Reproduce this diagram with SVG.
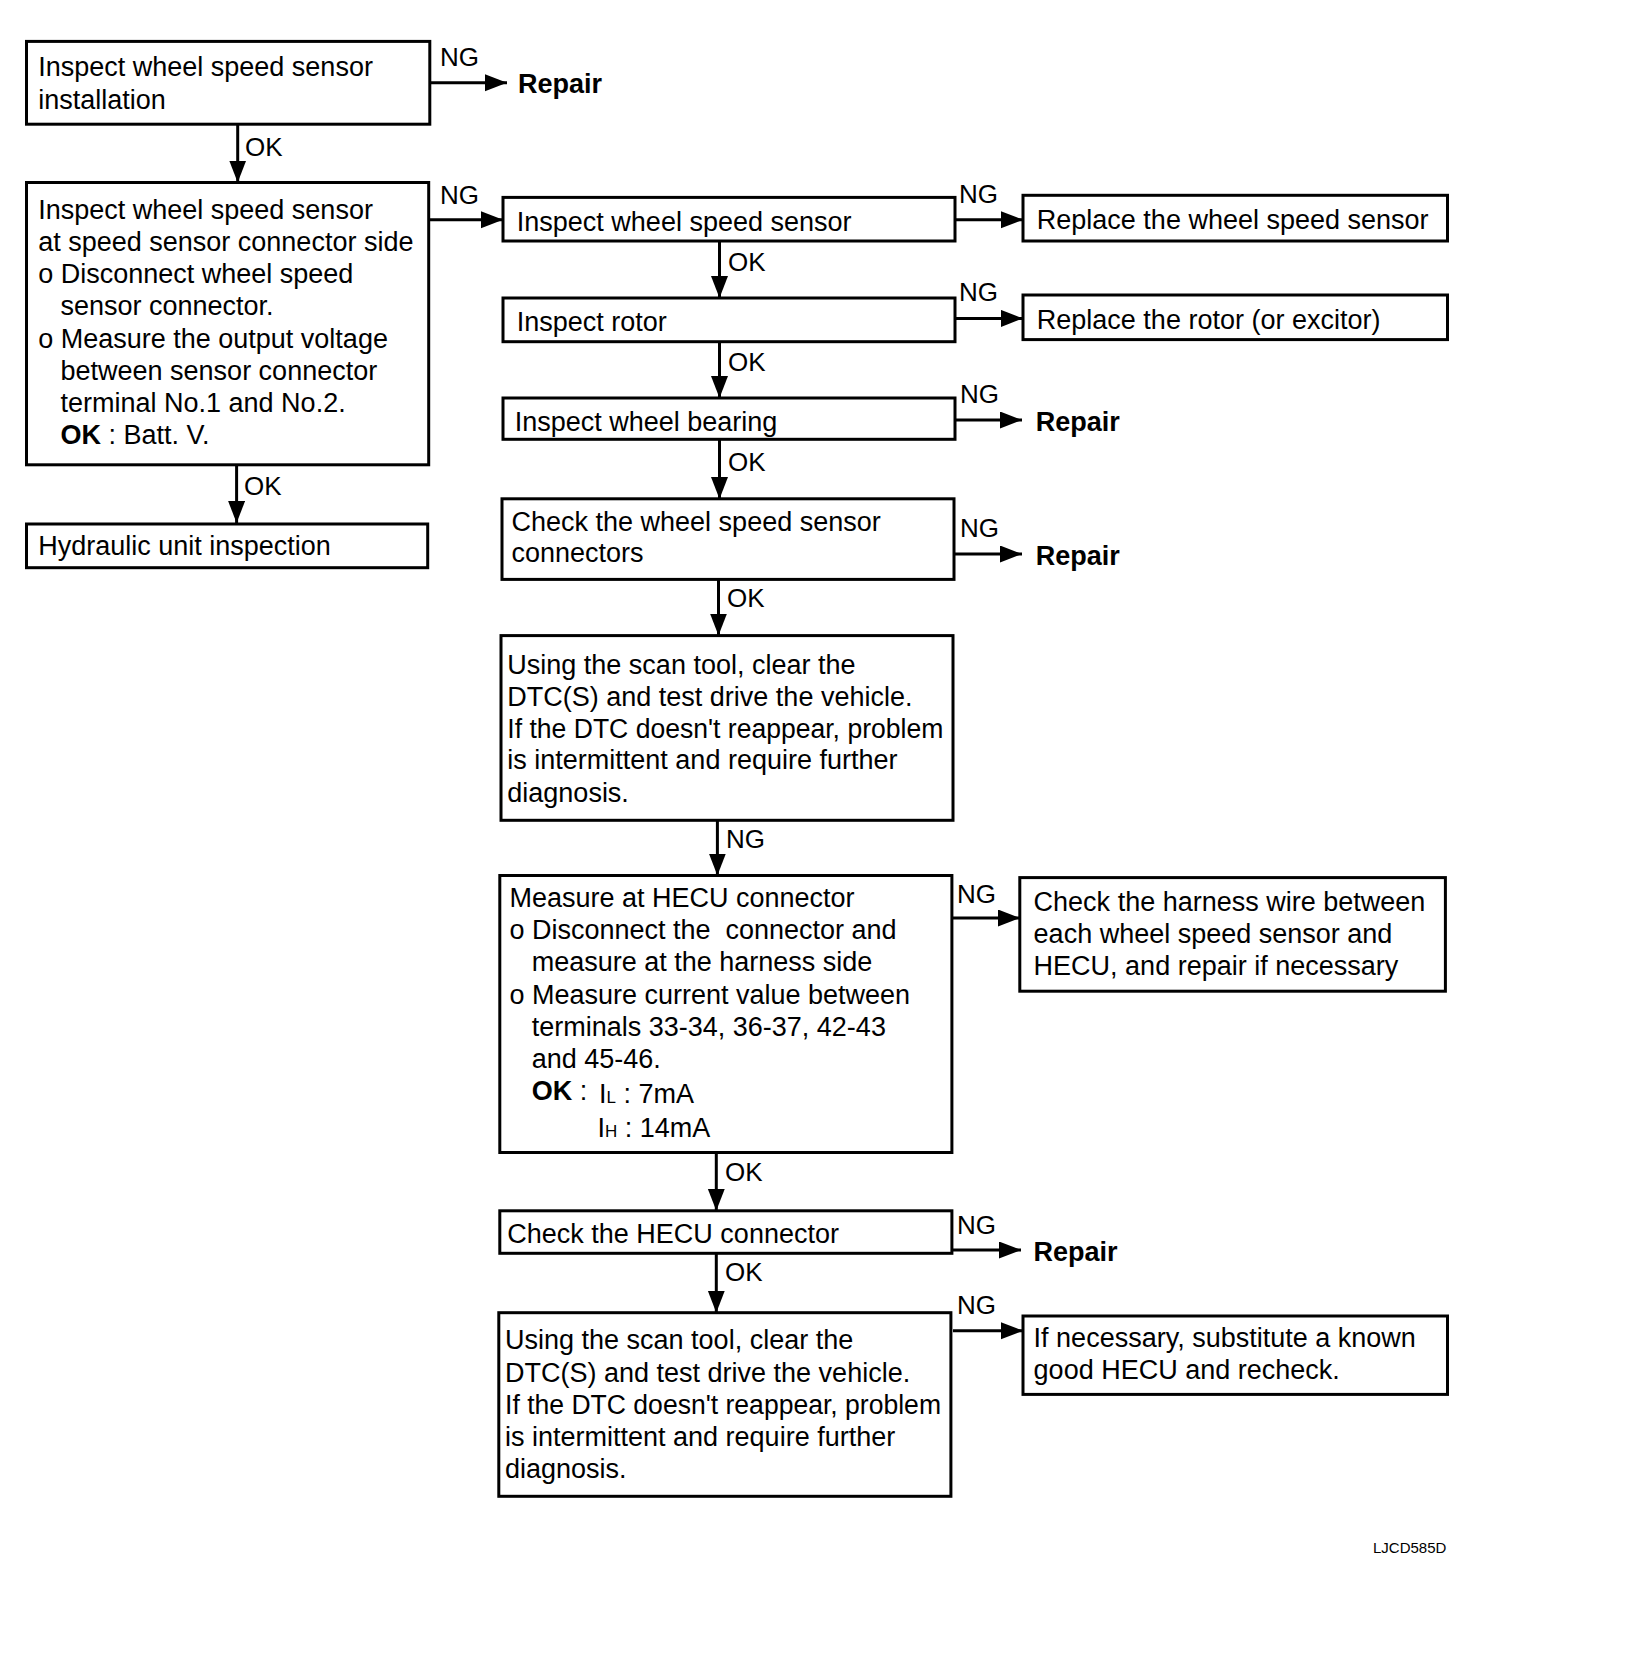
<svg xmlns="http://www.w3.org/2000/svg" width="1648" height="1664" viewBox="0 0 1648 1664">
<defs>
<style>
.box{fill:#fff;stroke:#000;stroke-width:3}
.t{font-family:"Liberation Sans",Arial,sans-serif;font-size:27px;fill:#000}
.lbl{font-family:"Liberation Sans",Arial,sans-serif;font-size:26px;fill:#000}
.b{font-weight:bold}
.c{fill:none;stroke:#000;stroke-width:3}
</style>
<marker id="ah" markerUnits="userSpaceOnUse" markerWidth="24" markerHeight="18" refX="22" refY="8.5" orient="auto">
<path d="M0,0 L22,8.5 L0,17 z" fill="#000"/>
</marker>
</defs>
<rect width="1648" height="1664" fill="#fff"/>

<g id="connectors">
<line class="c" x1="430" y1="82.8" x2="507" y2="82.8" marker-end="url(#ah)"/>
<line class="c" x1="237.7" y1="124" x2="237.7" y2="182.5" marker-end="url(#ah)"/>
<line class="c" x1="429" y1="219.7" x2="503" y2="219.7" marker-end="url(#ah)"/>
<line class="c" x1="236.6" y1="465" x2="236.6" y2="523" marker-end="url(#ah)"/>
<line class="c" x1="955" y1="219.7" x2="1023" y2="219.7" marker-end="url(#ah)"/>
<line class="c" x1="719.5" y1="241" x2="719.5" y2="298" marker-end="url(#ah)"/>
<line class="c" x1="955" y1="318.4" x2="1023" y2="318.4" marker-end="url(#ah)"/>
<line class="c" x1="719.5" y1="342" x2="719.5" y2="398" marker-end="url(#ah)"/>
<line class="c" x1="955" y1="420" x2="1022" y2="420" marker-end="url(#ah)"/>
<line class="c" x1="719.5" y1="439.5" x2="719.5" y2="499" marker-end="url(#ah)"/>
<line class="c" x1="954" y1="554" x2="1022" y2="554" marker-end="url(#ah)"/>
<line class="c" x1="718.5" y1="579.5" x2="718.5" y2="635.5" marker-end="url(#ah)"/>
<line class="c" x1="717.4" y1="820.5" x2="717.4" y2="875.5" marker-end="url(#ah)"/>
<line class="c" x1="952" y1="918" x2="1020" y2="918" marker-end="url(#ah)"/>
<line class="c" x1="716.3" y1="1152.5" x2="716.3" y2="1210.8" marker-end="url(#ah)"/>
<line class="c" x1="952" y1="1250" x2="1021" y2="1250" marker-end="url(#ah)"/>
<line class="c" x1="716.3" y1="1253.5" x2="716.3" y2="1312.7" marker-end="url(#ah)"/>
<line class="c" x1="953" y1="1330.7" x2="1023" y2="1330.7" marker-end="url(#ah)"/>
<text class="lbl" x="440" y="66">NG</text>
<text class="lbl" x="245" y="156">OK</text>
<text class="lbl" x="440" y="204">NG</text>
<text class="lbl" x="244" y="494.5">OK</text>
<text class="lbl" x="959" y="202.7">NG</text>
<text class="lbl" x="728" y="270.6">OK</text>
<text class="lbl" x="959" y="301.4">NG</text>
<text class="lbl" x="728" y="371.4">OK</text>
<text class="lbl" x="960" y="403">NG</text>
<text class="lbl" x="728" y="471">OK</text>
<text class="lbl" x="960" y="537">NG</text>
<text class="lbl" x="727" y="607">OK</text>
<text class="lbl" x="726" y="848">NG</text>
<text class="lbl" x="957" y="903">NG</text>
<text class="lbl" x="725" y="1181">OK</text>
<text class="lbl" x="957" y="1234">NG</text>
<text class="lbl" x="725" y="1281">OK</text>
<text class="lbl" x="957" y="1313.8">NG</text>
</g>

<g id="n1">
<rect class="box" x="26.5" y="41.4" width="403.3" height="82.8"/>
<text class="t" x="38.2" y="76.4">Inspect wheel speed sensor</text>
<text class="t" x="38.2" y="109.3">installation</text>
</g>
<g id="r1"><text class="t b" x="518" y="93">Repair</text></g>

<g id="n2">
<rect class="box" x="26.5" y="182.5" width="402.2" height="282.3"/>
<text class="t" x="38.2" y="218.6">Inspect wheel speed sensor</text>
<text class="t" x="38.2" y="251">at speed sensor connector side</text>
<text class="t" x="38.2" y="283">o Disconnect wheel speed</text>
<text class="t" x="60.5" y="315">sensor connector.</text>
<text class="t" x="38.2" y="347.5">o Measure the output voltage</text>
<text class="t" x="60.5" y="379.5">between sensor connector</text>
<text class="t" x="60.5" y="411.5">terminal No.1 and No.2.</text>
<text class="t" x="60.5" y="443.5"><tspan class="b">OK</tspan> : Batt. V.</text>
</g>

<g id="n3">
<rect class="box" x="26.5" y="524" width="401.2" height="43.7"/>
<text class="t" x="38.2" y="555">Hydraulic unit inspection</text>
</g>

<g id="n4">
<rect class="box" x="503" y="197.4" width="452" height="43.6"/>
<text class="t" x="516.8" y="231.3">Inspect wheel speed sensor</text>
</g>
<g id="n5">
<rect class="box" x="1023" y="195.3" width="424.5" height="45.7"/>
<text class="t" x="1036.8" y="229.2">Replace the wheel speed sensor</text>
</g>

<g id="n6">
<rect class="box" x="503" y="298" width="452" height="43.7"/>
<text class="t" x="516.8" y="331">Inspect rotor</text>
</g>
<g id="n7">
<rect class="box" x="1023" y="295" width="424.5" height="44.6"/>
<text class="t" x="1036.8" y="329">Replace the rotor (or excitor)</text>
</g>

<g id="n8">
<rect class="box" x="503" y="398" width="452" height="41.3"/>
<text class="t" x="514.7" y="430.8">Inspect wheel bearing</text>
</g>
<g id="r2"><text class="t b" x="1035.7" y="430.8">Repair</text></g>

<g id="n9">
<rect class="box" x="502" y="498.8" width="452" height="80.6"/>
<text class="t" x="511.5" y="530.6">Check the wheel speed sensor</text>
<text class="t" x="511.5" y="562.4">connectors</text>
</g>
<g id="r3"><text class="t b" x="1035.7" y="564.6">Repair</text></g>

<g id="n10">
<rect class="box" x="501" y="635.6" width="452" height="184.7"/>
<text class="t" x="507.3" y="673.9">Using the scan tool, clear the</text>
<text class="t" x="507.3" y="705.7">DTC(S) and test drive the vehicle.</text>
<text class="t" x="507.3" y="737.5" textLength="436" lengthAdjust="spacingAndGlyphs">If the DTC doesn't reappear, problem</text>
<text class="t" x="507.3" y="769.4">is intermittent and require further</text>
<text class="t" x="507.3" y="802.3">diagnosis.</text>
</g>

<g id="n11">
<rect class="box" x="499.8" y="875.5" width="452.1" height="277"/>
<text class="t" x="509.4" y="907.3">Measure at HECU connector</text>
<text class="t" x="509.4" y="939.2" style="white-space:pre">o Disconnect the  connector and</text>
<text class="t" x="531.7" y="971">measure at the harness side</text>
<text class="t" x="509.4" y="1003.9">o Measure current value between</text>
<text class="t" x="531.7" y="1035.7">terminals 33-34, 36-37, 42-43</text>
<text class="t" x="531.7" y="1067.6">and 45-46.</text>
<text class="t" x="531.7" y="1099.5"><tspan class="b">OK</tspan> :</text>
<text class="t" x="599" y="1103">I<tspan font-size="17">L</tspan> : 7mA</text>
<text class="t" x="597.5" y="1136.5">I<tspan font-size="17">H</tspan> : 14mA</text>
</g>
<g id="n12">
<rect class="box" x="1019.8" y="877.6" width="425.6" height="113.6"/>
<text class="t" x="1033.6" y="910.5">Check the harness wire between</text>
<text class="t" x="1033.6" y="943.4">each wheel speed sensor and</text>
<text class="t" x="1033.6" y="975.2">HECU, and repair if necessary</text>
</g>

<g id="n13">
<rect class="box" x="499.8" y="1210.8" width="452.1" height="42.5"/>
<text class="t" x="507.3" y="1242.7">Check the HECU connector</text>
</g>
<g id="r4"><text class="t b" x="1033.6" y="1260.7">Repair</text></g>

<g id="n14">
<rect class="box" x="498.8" y="1312.7" width="452.1" height="183.6"/>
<text class="t" x="505" y="1348.8">Using the scan tool, clear the</text>
<text class="t" x="505" y="1381.7">DTC(S) and test drive the vehicle.</text>
<text class="t" x="505" y="1413.5" textLength="436" lengthAdjust="spacingAndGlyphs">If the DTC doesn't reappear, problem</text>
<text class="t" x="505" y="1446.4">is intermittent and require further</text>
<text class="t" x="505" y="1478.2">diagnosis.</text>
</g>
<g id="n15">
<rect class="box" x="1023" y="1316" width="424.5" height="78.4"/>
<text class="t" x="1033.6" y="1346.7">If necessary, substitute a known</text>
<text class="t" x="1033.6" y="1378.5">good HECU and recheck.</text>
</g>

<text x="1373" y="1553" font-family="Liberation Sans,Arial,sans-serif" font-size="15" fill="#000">LJCD585D</text>
</svg>
